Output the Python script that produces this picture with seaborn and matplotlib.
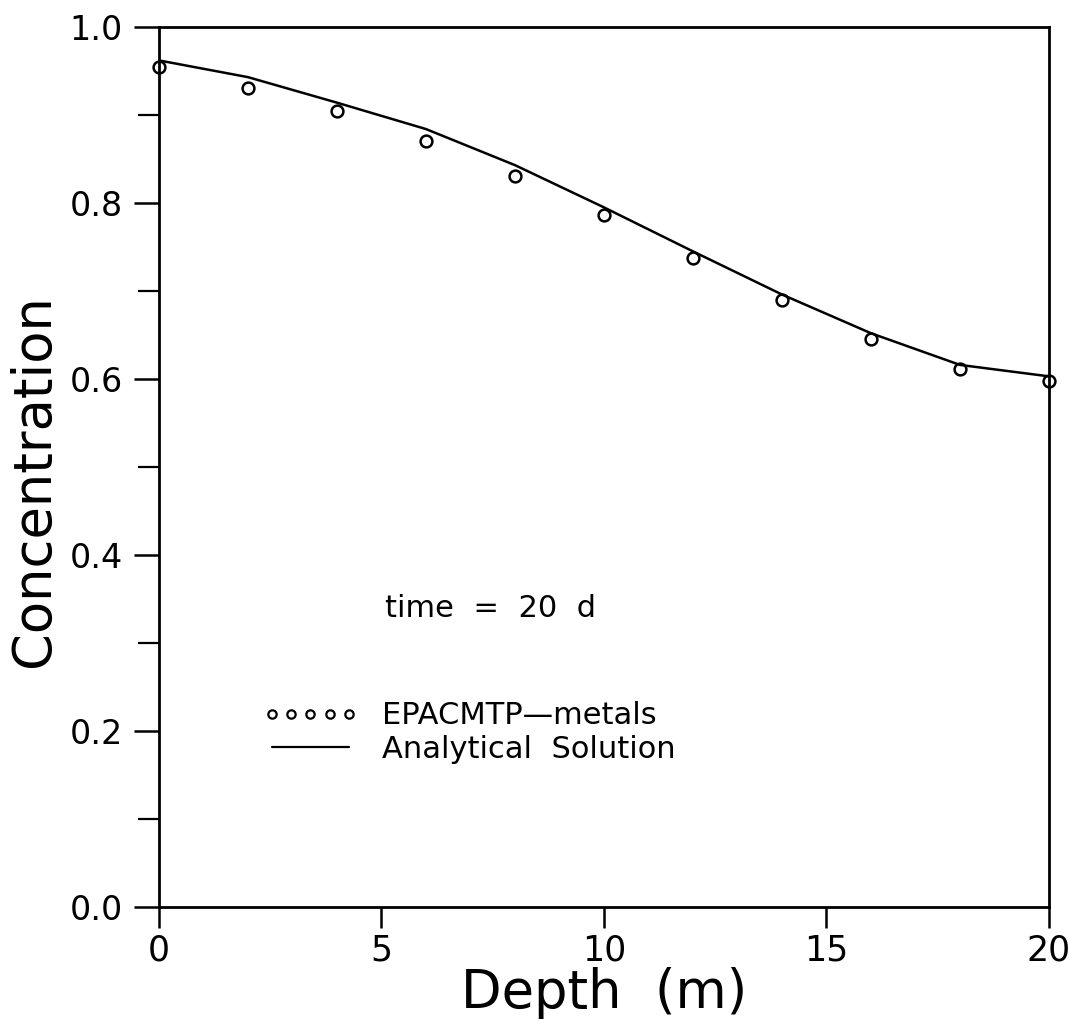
import matplotlib
matplotlib.use("Agg")
import matplotlib.pyplot as plt
import seaborn as sns
import pandas as pd
from matplotlib.lines import Line2D
from matplotlib.ticker import MultipleLocator

# Data
depth_pts = [0, 2, 4, 6, 8, 10, 12, 14, 16, 18, 20]
conc_pts = [0.955, 0.931, 0.904, 0.870, 0.831, 0.786, 0.737, 0.690, 0.646, 0.611, 0.598]

depth_line = [0, 2, 4, 6, 8, 10, 12, 14, 16, 18, 20]
conc_line = [0.962, 0.943, 0.914, 0.884, 0.843, 0.795, 0.745, 0.696, 0.652, 0.616, 0.603]

x_ticks = [0, 5, 10, 15, 20]
y_ticks = [0.0, 0.2, 0.4, 0.6, 0.8, 1.0]
series_labels = ["EPACMTP\u2014metals", "Analytical  Solution"]

sns.set_style("ticks")
plt.rcParams["font.family"] = ["DejaVu Sans"]
for key in ["text.color", "axes.labelcolor", "xtick.color", "ytick.color"]:
    plt.rcParams[key] = "black"

fig = plt.figure(figsize=(10.69, 10.22), dpi=100)
ax = fig.add_axes([0.1487, 0.1125, 0.8326, 0.8611])

df_pts = pd.DataFrame({"Depth": depth_pts, "Conc": conc_pts})
df_line = pd.DataFrame({"Depth": depth_line, "Conc": conc_line})

sns.lineplot(data=df_line, x="Depth", y="Conc", ax=ax, color="black",
             linewidth=1.8, sort=False)
ax.plot(df_pts["Depth"], df_pts["Conc"], linestyle="none", marker="o",
        markersize=8.5, markerfacecolor="none", markeredgecolor="black",
        markeredgewidth=1.8, clip_on=False, zorder=5)

ax.set_xlim(0, 20)
ax.set_ylim(0, 1.0)
ax.set_xticks(x_ticks)
ax.set_xticklabels([str(t) for t in x_ticks])
ax.set_yticks(y_ticks)
ax.set_yticklabels([f"{t:.1f}" for t in y_ticks])
ax.yaxis.set_minor_locator(MultipleLocator(0.1))

for side in ["top", "right", "left", "bottom"]:
    ax.spines[side].set_visible(True)
    ax.spines[side].set_linewidth(2.0)
    ax.spines[side].set_color("black")

ax.tick_params(axis="y", which="major", direction="out", length=18, width=1.8,
               labelsize=24, pad=8, colors="black")
ax.tick_params(axis="y", which="minor", direction="out", length=15, width=1.6)
ax.tick_params(axis="x", which="major", direction="out", length=15, width=1.8,
               labelsize=25, pad=4, colors="black")

ax.set_xlabel("Depth  (m)", fontsize=38, labelpad=0, color="black")
ax.set_ylabel("Concentration", fontsize=38, color="black")
ax.yaxis.set_label_coords(-0.111, 0.485)

ax.text(5.07, 0.329, "time  =  20  d", fontsize=22, ha="left", va="baseline",
        color="black")

handles = [
    Line2D([], [], linestyle="none", marker="o", markersize=6,
           markerfacecolor="none", markeredgecolor="black", markeredgewidth=1.6),
    Line2D([], [], color="black", linewidth=1.6),
]
leg = ax.legend(handles, series_labels, loc="center left",
                bbox_to_anchor=(0.117, 0.198), frameon=False, fontsize=22,
                numpoints=5, handlelength=3.1, handletextpad=0.8,
                labelspacing=0.15, borderpad=0, borderaxespad=0)
for t in leg.get_texts():
    t.set_color("black")

fig.savefig("out.png", dpi=100)
